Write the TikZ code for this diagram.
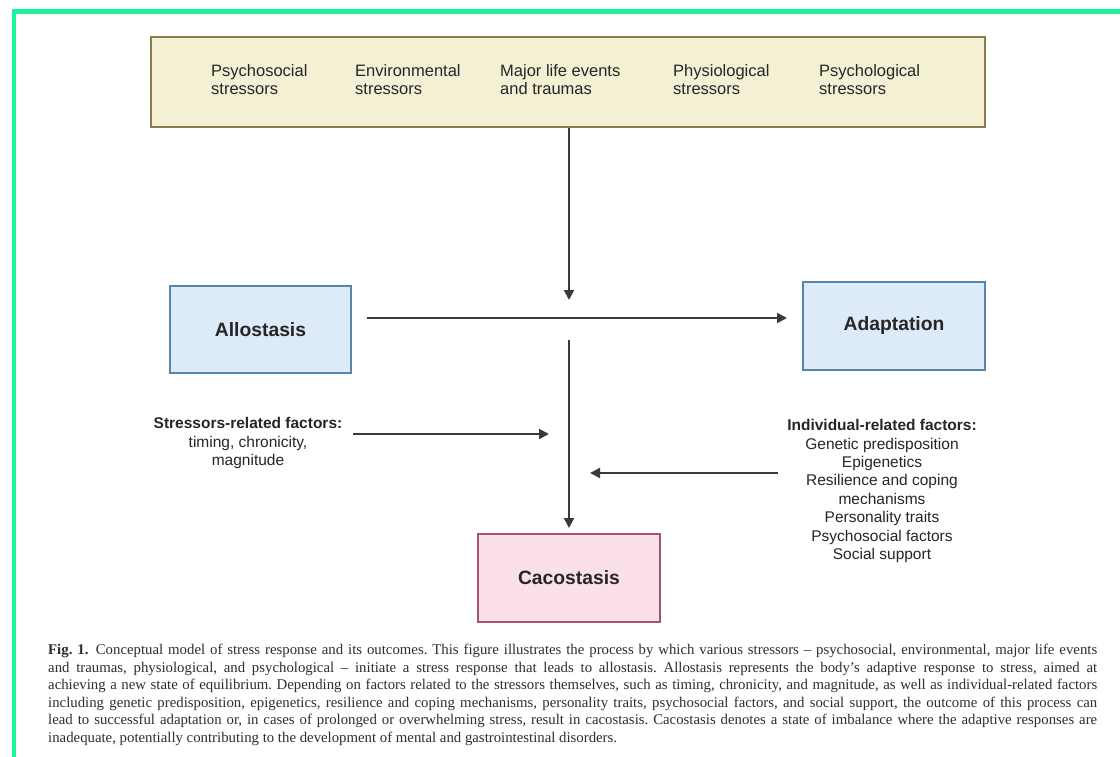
\documentclass[tikz,border=0pt]{standalone}
\usepackage{fontspec}
\setmainfont{Liberation Serif}
\newfontfamily\diagfont{Liberation Sans}
\usetikzlibrary{arrows.meta}

\definecolor{framegreen}{HTML}{1AF59C}
\definecolor{ink}{HTML}{262626}
\definecolor{lineink}{HTML}{3A3A3A}
\definecolor{captink}{HTML}{2E2E2E}
\definecolor{stressfill}{HTML}{F3F0D3}
\definecolor{stressdraw}{HTML}{8C7B4C}
\definecolor{bluefill}{HTML}{DDEAF7}
\definecolor{bluedraw}{HTML}{5885AE}
\definecolor{pinkfill}{HTML}{FBE0E8}
\definecolor{pinkdraw}{HTML}{A5546E}

\tikzset{
  statebox/.style={draw, line width=2pt, inner sep=0pt, text=ink,
    font=\diagfont\bfseries\fontsize{19.3}{22}\selectfont},
  stressorlbl/.style={anchor=north west, inner sep=0pt, align=left, text=ink,
    font=\diagfont\fontsize{16.5}{18}\selectfont},
  factorlbl/.style={inner sep=0pt, align=center, text=ink,
    font=\diagfont\fontsize{15.5}{18.4}\selectfont},
  conn/.style={draw=lineink, line width=2pt,
    -{Triangle[length=10pt,width=10pt]}},
}

\begin{document}
\begin{tikzpicture}[x=1pt,y=-1pt]
\useasboundingbox (0,0) rectangle (1120,757);
\fill[white] (0,0) rectangle (1120,757);

% green page frame (top and left edges)
\draw[framegreen, line width=4.5pt] (14,757) -- (14,11.5) -- (1120,11.5);

% stressors panel
\node[draw=stressdraw, fill=stressfill, line width=2pt,
      minimum width=834pt, minimum height=90pt, inner sep=0pt]
      (stressors) at (568,82) {};
\node[stressorlbl] (s1) at (211,64) {Psychosocial\\stressors};
\node[stressorlbl] (s2) at (355,64) {Environmental\\stressors};
\node[stressorlbl] (s3) at (500,64) {Major life events\\and traumas};
\node[stressorlbl] (s4) at (673,64) {Physiological\\stressors};
\node[stressorlbl] (s5) at (819,64) {Psychological\\stressors};

% states
\node[statebox, draw=bluedraw, fill=bluefill,
      minimum width=181pt, minimum height=87pt] (allo) at (260.5,329.5) {Allostasis};
\node[statebox, draw=bluedraw, fill=bluefill,
      minimum width=182pt, minimum height=88pt] (adapt) at (894,326) {Adaptation};
\node[statebox, draw=pinkdraw, fill=pinkfill,
      minimum width=182pt, minimum height=88pt] (caco) at (569,578) {Cacostasis};

% modulating factors
\node[factorlbl] (srf) at (248,443)
  {\textbf{Stressors-related factors:}\\timing, chronicity,\\magnitude};
\node[factorlbl] (irf) at (882,491)
  {\textbf{Individual-related factors:}\\Genetic predisposition\\Epigenetics\\
   Resilience and coping\\mechanisms\\Personality traits\\Psychosocial factors\\Social support};

% connector end points
\coordinate (hub)   at (569,300);
\coordinate (hA)    at (367,318);
\coordinate (hB)    at (787,318);
\coordinate (vtop)  at (569,340);
\coordinate (sOut)  at (353,434);
\coordinate (sIn)   at (549,434);
\coordinate (iOut)  at (778,473);
\coordinate (iIn)   at (590,473);

% connectors
\draw[conn] (stressors.south -| hub) -- (hub);
\draw[conn] (hA) -- (hB);
\draw[conn, shorten >=5pt] (vtop) -- (caco.north);
\draw[conn] (sOut) -- (sIn);
\draw[conn] (iOut) -- (iIn);

% caption
\node[anchor=north west, inner sep=0pt, text width=1049pt, align=justify,
      text=captink, font=\fontsize{14.8}{17.5}\selectfont] (cap) at (48,644)
{\frenchspacing\textbf{Fig. 1.}\enspace Conceptual model of stress response and its outcomes. This figure illustrates the process by which various stressors – psychosocial, environmental, major life events\linebreak
and traumas, physiological, and psychological – initiate a stress response that leads to allostasis. Allostasis represents the body’s adaptive response to stress, aimed at\linebreak
achieving a new state of equilibrium. Depending on factors related to the stressors themselves, such as timing, chronicity, and magnitude, as well as individual-related factors\linebreak
including genetic predisposition, epigenetics, resilience and coping mechanisms, personality traits, psychosocial factors, and social support, the outcome of this process can\linebreak
lead to successful adaptation or, in cases of prolonged or overwhelming stress, result in cacostasis. Cacostasis denotes a state of imbalance where the adaptive responses are\linebreak
inadequate, potentially contributing to the development of mental and gastrointestinal disorders.};
\end{tikzpicture}
\end{document}
